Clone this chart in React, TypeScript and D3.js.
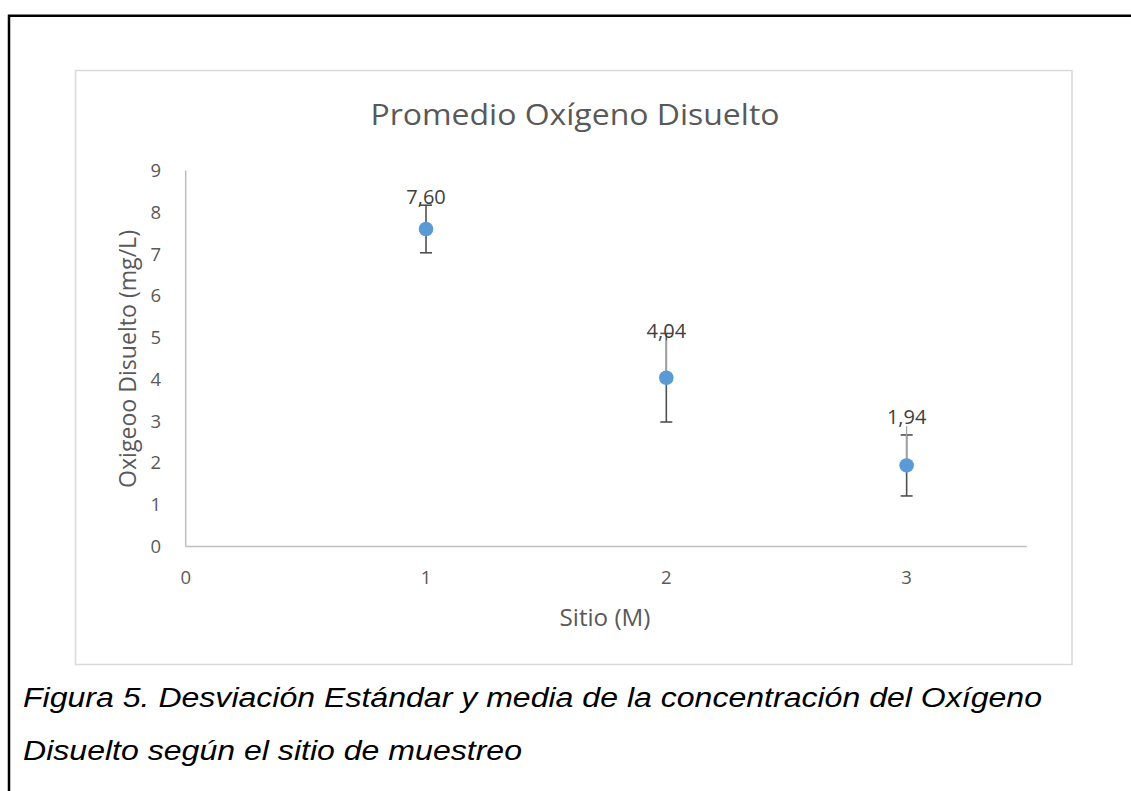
import React from "react";
import * as d3 from "d3";

const sites = [1, 2, 3];
const means = [7.6, 4.04, 1.94];
const stdDevs = [0.57, 1.06, 0.73];
const meanLabels = ["7,60", "4,04", "1,94"];
const xTicks = [0, 1, 2, 3];
const yTicks = [0, 1, 2, 3, 4, 5, 6, 7, 8, 9];

const title = "Promedio Oxígeno Disuelto";
const xTitle = "Sitio (M)";
const yTitle = "Oxigeoo Disuelto (mg/L)";
const captionLines = [
  "Figura 5. Desviación Estándar y media de la concentración del Oxígeno",
  "Disuelto según el sitio de muestreo",
];

// layout (pixel offsets of the hand-placed data labels, above the point)
const labelBaselineOffsets = [-24.5, -39.5, -41.5];
const labelLeader = [false, true, true];

const W = 1131;
const H = 791;
const plot = { left: 185.7, right: 1026.8, top: 170.5, bottom: 546.5 };
const font = "'Open Sans', Calibri, sans-serif";

export default function App() {
  const x = d3.scaleLinear().domain([0, 3.5]).range([plot.left, plot.right]);
  const y = d3.scaleLinear().domain([0, 9]).range([plot.bottom, plot.top]);
  const txt = "#595959";

  return (
    <div style={{ position: "absolute", left: 0, top: 0 }}>
      <svg width={W} height={H} style={{ display: "block", background: "#fff" }}>
        {/* outer black border */}
        <path d={`M9,791 V15.7 H1131`} fill="none" stroke="#000" strokeWidth={2.5} />
        {/* chart frame */}
        <rect x={75.5} y={70.5} width={996.5} height={594} fill="#fff" stroke="#D9D9D9" strokeWidth={1.5} />
        {/* title */}
        <text x={575} y={125} textAnchor="middle" fontFamily={font} fontSize={30} fill={txt}
          textLength={409} lengthAdjust="spacingAndGlyphs">{title}</text>
        {/* axes */}
        <line x1={plot.left} x2={plot.left} y1={plot.top} y2={plot.bottom} stroke="#BFBFBF" strokeWidth={1.5} />
        <line x1={plot.left} x2={plot.right} y1={plot.bottom} y2={plot.bottom} stroke="#BFBFBF" strokeWidth={1.5} />
        {yTicks.map((t) => (
          <text key={"y" + t} x={161} y={y(t)} dy="0.35em" textAnchor="end" fontFamily={font} fontSize={18.5} fill={txt}>{t}</text>
        ))}
        {xTicks.map((t) => (
          <text key={"x" + t} x={x(t)} y={578} dy="0.35em" textAnchor="middle" fontFamily={font} fontSize={18.5} fill={txt}>{t}</text>
        ))}
        <text x={605} y={618} dy="0.35em" textAnchor="middle" fontFamily={font} fontSize={23.5} fill={txt}
          textLength={91} lengthAdjust="spacingAndGlyphs">{xTitle}</text>
        <text transform={`translate(128,359) rotate(-90)`} dy="0.35em" textAnchor="middle" fontFamily={font} fontSize={23.5} fill={txt}
          textLength={258} lengthAdjust="spacingAndGlyphs">{yTitle}</text>
        {/* error bars */}
        {sites.map((s, i) => {
          const cx = x(s);
          const top = y(means[i] + stdDevs[i]);
          const bot = y(means[i] - stdDevs[i]);
          return (
            <g key={"e" + i} stroke="#505050" strokeWidth={1.6}>
              <line x1={cx} x2={cx} y1={top} y2={bot} />
              <line x1={cx - 6} x2={cx + 6} y1={top} y2={top} />
              <line x1={cx - 6} x2={cx + 6} y1={bot} y2={bot} />
            </g>
          );
        })}
        {/* leader lines */}
        {sites.map((s, i) =>
          labelLeader[i] ? (
            <line key={"l" + i} x1={x(s)} x2={x(s)} y1={y(means[i])} y2={y(means[i]) + labelBaselineOffsets[i] + 2}
              stroke="#A6A6A6" strokeWidth={1.2} />
          ) : null
        )}
        {/* points */}
        {sites.map((s, i) => (
          <circle key={"p" + i} cx={x(s)} cy={y(means[i])} r={7.3} fill="#5B9BD5" />
        ))}
        {/* data labels */}
        {sites.map((s, i) => (
          <text key={"t" + i} x={x(s)} y={y(means[i]) + labelBaselineOffsets[i]} textAnchor="middle"
            fontFamily={font} fontSize={20} fill="#404040">{meanLabels[i]}</text>
        ))}
        {/* caption */}
        <text x={23} y={707} fontFamily="'Liberation Sans', Arial, sans-serif" fontStyle="italic" fontSize={27} fill="#000"
          textLength={1019} lengthAdjust="spacingAndGlyphs">{captionLines[0]}</text>
        <text x={23} y={760} fontFamily="'Liberation Sans', Arial, sans-serif" fontStyle="italic" fontSize={27} fill="#000"
          textLength={499} lengthAdjust="spacingAndGlyphs">{captionLines[1]}</text>
      </svg>
    </div>
  );
}
